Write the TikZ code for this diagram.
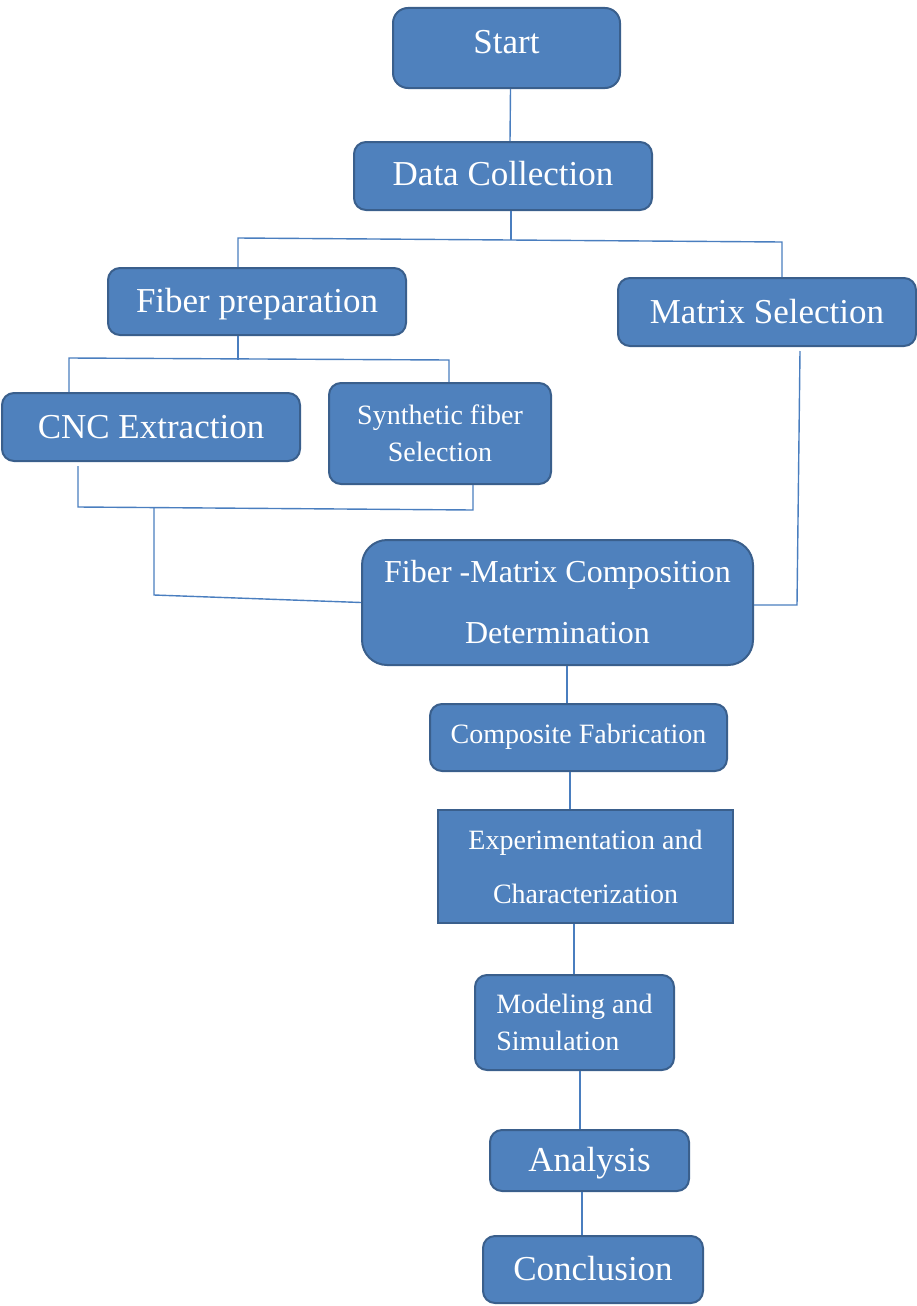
\documentclass[tikz,border=0pt]{standalone}
\usepackage{fontspec}
\setmainfont{Liberation Serif}

\definecolor{boxfill}{HTML}{4F81BD}
\definecolor{boxedge}{HTML}{3A5F8C}
\definecolor{linkblue}{HTML}{4A7EBF}

\tikzset{
  step_box/.style={rounded corners=12pt, fill=boxfill, draw=boxedge, line width=2pt,
    text=white, inner sep=0pt, align=center},
  big_text/.style={font=\fontsize{35}{42}\selectfont, text height=24.5pt, text depth=1.75pt},
  small_text/.style={font=\fontsize{28}{37}\selectfont},
}

\begin{document}
\begin{tikzpicture}[
  x=1pt, y=-1pt,
  link/.style={draw=linkblue, line width=1.4pt},
  ]
  \useasboundingbox (0,0) rectangle (917,1306);

  % boxes, top to bottom
  \node[step_box,big_text,rounded corners=15pt,minimum width=227pt,minimum height=80pt,text depth=12.5pt]
       (start) at (506.5,48) {Start};
  \node[step_box,big_text,minimum width=298pt,minimum height=68pt,text depth=6.5pt]
       (dc) at (503,176) {Data Collection};
  \node[step_box,big_text,minimum width=298pt,minimum height=67pt]
       (fp) at (257,301.5) {Fiber preparation};
  \node[step_box,big_text,minimum width=298pt,minimum height=68pt]
       (ms) at (767,312) {Matrix Selection};
  \node[step_box,big_text,minimum width=298pt,minimum height=68pt]
       (cnc) at (151,427) {CNC Extraction};
  \node[step_box,small_text,minimum width=222pt,minimum height=101pt]
       (syn) at (440,433.5) {Synthetic fiber\\Selection};
  \node[step_box,font=\fontsize{32}{61}\selectfont,rounded corners=25pt,minimum width=391pt,minimum height=125pt]
       (fm) at (557.5,602.5) {Fiber -Matrix Composition\\Determination};
  \node[step_box,font=\fontsize{28}{34}\selectfont,text height=19.6pt,text depth=8.6pt,minimum width=297pt,minimum height=67pt]
       (cf) at (578.5,737.5) {Composite Fabrication};
  \node[step_box,font=\fontsize{28}{54}\selectfont,rounded corners=0pt,minimum width=295pt,minimum height=113pt]
       (ex) at (585.5,866.5) {Experimentation and\\Characterization};
  \node[step_box,small_text,align=left,minimum width=199pt,minimum height=95pt]
       (mod) at (574.5,1022.5) {Modeling and\\Simulation};
  \node[step_box,big_text,minimum width=199pt,minimum height=61pt]
       (ana) at (589.5,1160.5) {Analysis};
  \node[step_box,big_text,minimum width=220pt,minimum height=67pt]
       (con) at (593,1269.5) {Conclusion};

  % upper tree
  \draw[link] ([xshift=4pt]start.south) -- ([xshift=7pt]dc.north);
  \coordinate (dc_bus) at (511,240);
  \coordinate (bus_l) at (238,238);
  \coordinate (bus_r) at (782,242);
  \draw[link] ([xshift=8pt]dc.south) -- (dc_bus);
  \draw[link] ([xshift=-19pt]fp.north) -- (bus_l) -- (bus_r) -- ([xshift=15pt]ms.north);

  \coordinate (fp_bus) at (238,360);
  \coordinate (sub_l) at (69,358);
  \coordinate (sub_r) at (449,360);
  \draw[link] ([xshift=-19pt]fp.south) -- (fp_bus);
  \draw[link] ([xshift=-82pt]cnc.north) -- (sub_l) -- (sub_r) -- ([xshift=9pt]syn.north);

  % joins into the composition box
  \coordinate (cnc_low) at (78,507);
  \coordinate (syn_low) at (473,510);
  \coordinate (join_top) at (154,508);
  \coordinate (join_bot) at (154,595);
  \coordinate (ms_low) at (797,605);
  \draw[link] ([shift={(-73pt,-4pt)}]cnc.south) -- (cnc_low) -- (syn_low) -- ([xshift=33pt]syn.south);
  \draw[link] (join_top) -- (join_bot) -- (fm.west);
  \draw[link] ([shift={(33pt,-4pt)}]ms.south) -- (ms_low) -- (fm.east |- ms_low);

  % lower chain
  \coordinate (fm_out) at ([xshift=9.5pt]fm.south);
  \coordinate (cf_out) at ([xshift=-8.5pt]cf.south);
  \coordinate (ex_out) at ([xshift=-11.5pt]ex.south);
  \coordinate (mod_out) at ([xshift=5.5pt]mod.south);
  \coordinate (ana_out) at ([xshift=-7.5pt]ana.south);
  \draw[link] (fm_out) -- (fm_out |- cf.north);
  \draw[link] (cf_out) -- (cf_out |- ex.north);
  \draw[link] (ex_out) -- (ex_out |- mod.north);
  \draw[link] (mod_out) -- (mod_out |- ana.north);
  \draw[link] (ana_out) -- (ana_out |- con.north);
\end{tikzpicture}
\end{document}
